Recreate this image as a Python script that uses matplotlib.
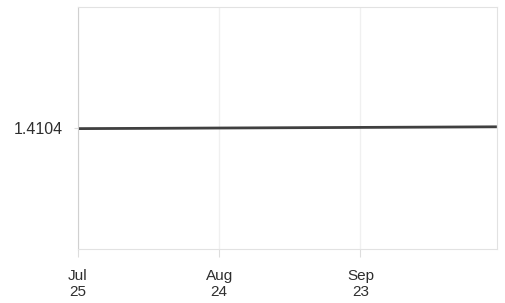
import matplotlib.pyplot as plt
import pandas as pd

plt.rcParams["font.family"] = ["Liberation Sans", "DejaVu Sans"]

# Data (nearly flat series)
dates = pd.to_datetime(["2013-07-25", "2013-08-10", "2013-08-24", "2013-09-08",
                        "2013-09-23", "2013-10-08", "2013-10-22"])
values = [1.410398, 1.410399, 1.410400, 1.410401, 1.410402, 1.410403, 1.410404]
tick_dates = pd.to_datetime(["2013-07-25", "2013-08-24", "2013-09-23"])
tick_labels = ["Jul\n25", "Aug\n24", "Sep\n23"]
ytick_val = [1.4104]

fig = plt.figure(figsize=(5.06, 3.03), dpi=100)
ax = fig.add_axes([0.154, 0.178, 0.828, 0.799])

ax.plot(dates, values, color="#404040", linewidth=2.0, solid_capstyle="butt")

ax.set_xlim(dates[0], dates[-1])
ax.set_ylim(1.41, 1.4108)
ax.set_xticks(tick_dates)
ax.set_xticklabels(tick_labels, fontsize=11, color="#2e2e2e", linespacing=1.25,
                   ha="center")
ax.set_yticks(ytick_val)
ax.set_yticklabels(["1.4104"], fontsize=11.5, color="#2e2e2e")
ax.tick_params(axis="x", length=6, color="#dddddd", pad=8)
ax.tick_params(axis="y", length=3, color="#dddddd", pad=8)

ax.grid(axis="x", color="#f0f0f0", linewidth=1)
for side in ["left", "bottom", "top", "right"]:
    ax.spines[side].set_color("#e2e2e2")
ax.spines["left"].set_color("#d0d0d0")

fig.savefig("out.png", dpi=100)
